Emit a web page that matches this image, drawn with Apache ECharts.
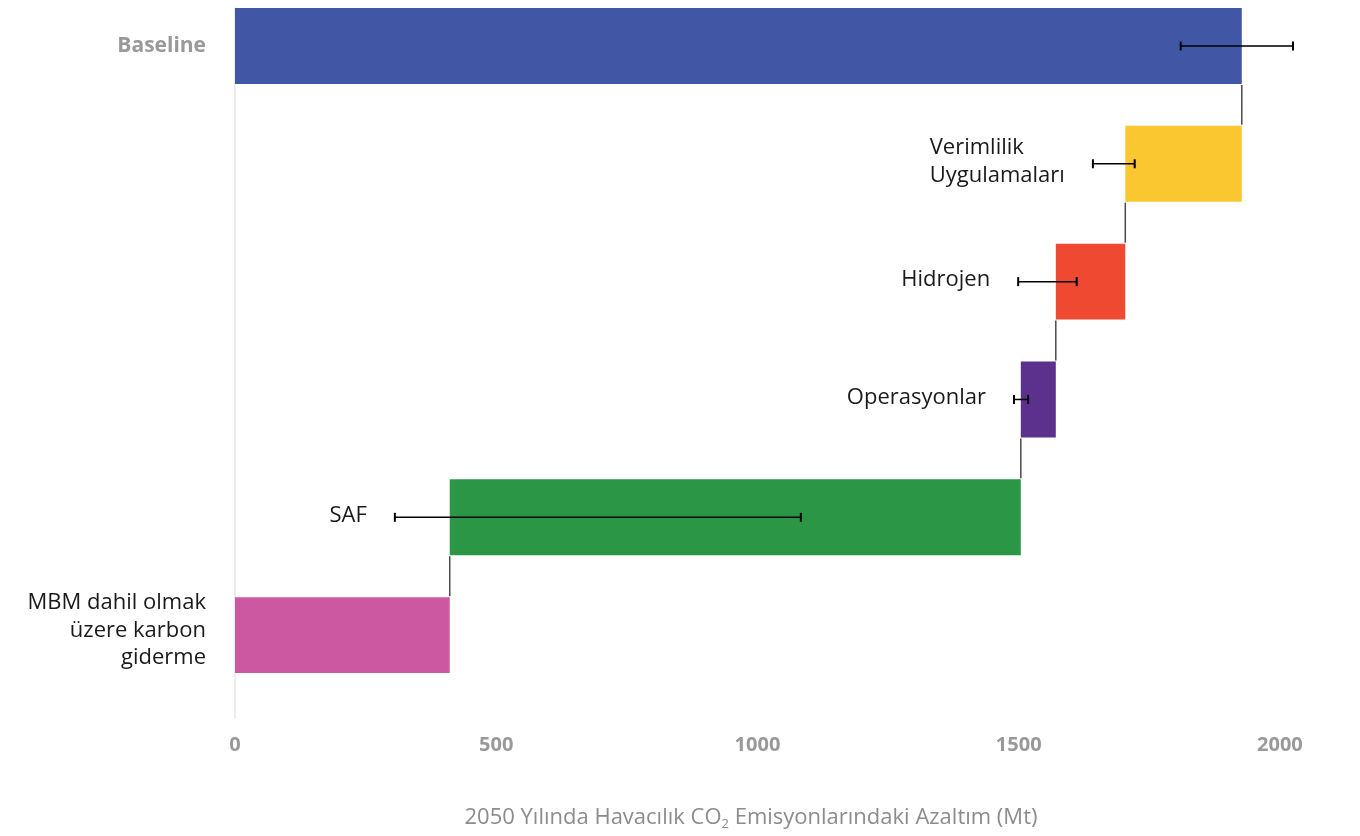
<!DOCTYPE html>
<html>
<head>
<meta charset="utf-8">
<script src="https://cdn.jsdelivr.net/npm/echarts@6/dist/echarts.min.js"></script>
<style>
html,body{margin:0;padding:0;background:#fff;}
#c{width:1360px;height:836px;}
</style>
</head>
<body>
<div id="c"></div>
<script>
// ---- data ----
const categories = ['Baseline', 'Verimlilik\nUygulamaları', 'Hidrojen', 'Operasyonlar', 'SAF', 'MBM dahil olmak\nüzere karbon\ngiderme'];
const baselineValue = 1927;
const reductions = [223, 133, 67, 1093, 411];      // categories 1..5
const errLow  = [1810, 1642, 1499, 1491, 306, null];
const errHigh = [2025, 1722, 1611, 1518, 1083, null];
const xTicks = [0, 500, 1000, 1500, 2000];
const axisTitle = '2050 Yılında Havacılık CO{sub|2} Emisyonlarındaki Azaltım (Mt)';

// ---- styles ----
const barColors = ['#4157a5', '#fbc730', '#ef4a31', '#5c308d', '#2a9646', '#cc58a1'];
const BAR_H = 0.644;
const FONT = '"Open Sans", sans-serif';

// waterfall segments [start, end, index]
const barData = [[0, baselineValue, 0]];
let cur = baselineValue;
reductions.forEach((r, i) => { barData.push([cur - r, cur, i + 1]); cur -= r; });

const connectorData = [];
for (let i = 0; i < barData.length - 1; i++) connectorData.push([barData[i + 1][1], i]);

const errData = [];
errLow.forEach((lo, i) => { if (lo != null) errData.push([lo, errHigh[i], i]); });

const innerLabelData = [];
for (let i = 1; i < categories.length - 1; i++) innerLabelData.push([errLow[i], i]);

const measureCtx = document.createElement('canvas').getContext('2d');
measureCtx.font = '22px "Open Sans"';
function blockWidth(t) {
  return Math.max.apply(null, t.split('\n').map(s => measureCtx.measureText(s).width));
}

const chart = echarts.init(document.getElementById('c'));
chart.setOption({
  animation: false,
  textStyle: { fontFamily: FONT },
  grid: { left: 235, right: 67, top: 8, bottom: 117 },
  xAxis: {
    type: 'value', min: 0, max: 2025,
    axisLine: { show: true, lineStyle: { color: '#e6e6e6', width: 1.5 } },
    axisTick: { show: false },
    splitLine: { show: false },
    axisLabel: {
      customValues: xTicks,
      formatter: function (v) { return String(v); },
      margin: 17,
      color: '#999999', fontWeight: 'bold', fontSize: 20, lineHeight: 20
    },
    name: axisTitle,
    nameLocation: 'middle',
    nameGap: 87,
    nameTextStyle: {
      color: '#8c8c8c', fontSize: 22, padding: [0, 26, 0, 0], lineHeight: 26,
      rich: {
        sub: { fontSize: 13, lineHeight: 10, verticalAlign: 'bottom', color: '#8c8c8c' }
      }
    }
  },
  yAxis: {
    type: 'value', inverse: true, min: -0.322, max: 5.703,
    offset: 3,
    axisLine: { show: true, lineStyle: { color: '#e6e6e6', width: 1.5 } },
    axisTick: { show: false },
    splitLine: { show: false },
    axisLabel: {
      customValues: [0, categories.length - 1],
      margin: 26,
      formatter: function (v) {
        if (v === 0) return '{b|' + categories[0] + '}';
        if (v === categories.length - 1) return '{m|' + categories[v].split('\n').join('}\n{m|') + '}';
        return '';
      },
      rich: {
        b: { fontSize: 21, fontWeight: 'bold', color: '#999999', fontFamily: FONT, padding: [10, 0, 0, 0] },
        m: { fontSize: 22, color: '#1a1a1a', lineHeight: 27.5, fontFamily: FONT, align: 'right' }
      },
      padding: [0, 0, 9, 0]
    }
  },
  series: [
    {
      type: 'custom', name: 'bars', data: barData,
      encode: { x: [0, 1], y: 2 },
      renderItem: function (params, api) {
        const s = api.value(0), e = api.value(1), idx = api.value(2);
        const p0 = api.coord([s, idx]), p1 = api.coord([e, idx]);
        const h = api.size([0, BAR_H])[1];
        return { type: 'rect', shape: { x: p0[0], y: p0[1] - h / 2, width: p1[0] - p0[0], height: h }, style: { fill: barColors[idx] } };
      }
    },
    {
      type: 'custom', name: 'connectors', data: connectorData,
      encode: { x: 0, y: 1 },
      renderItem: function (params, api) {
        const x = api.value(0), i = api.value(1);
        const h = api.size([0, BAR_H])[1];
        const a = api.coord([x, i]), b = api.coord([x, i + 1]);
        return { type: 'line', shape: { x1: a[0], y1: a[1] + h / 2 + 1, x2: b[0], y2: b[1] - h / 2 - 1 }, style: { stroke: '#4a4a4a', lineWidth: 1.5 } };
      }
    },
    {
      type: 'custom', name: 'errors', data: errData, z: 5,
      encode: { x: [0, 1], y: 2 },
      renderItem: function (params, api) {
        const lo = api.coord([api.value(0), api.value(2)]), hi = api.coord([api.value(1), api.value(2)]);
        const c = 4.5, st = { stroke: '#000', lineWidth: 1.5 };
        return { type: 'group', children: [
          { type: 'line', shape: { x1: lo[0], y1: lo[1], x2: hi[0], y2: hi[1] }, style: st },
          { type: 'line', shape: { x1: lo[0], y1: lo[1] - c, x2: lo[0], y2: lo[1] + c }, style: { stroke: '#000', lineWidth: 2 } },
          { type: 'line', shape: { x1: hi[0], y1: hi[1] - c, x2: hi[0], y2: hi[1] + c }, style: { stroke: '#000', lineWidth: 2 } }
        ] };
      }
    },
    {
      type: 'custom', name: 'labels', data: innerLabelData, z: 6,
      encode: { x: 0, y: 1 },
      renderItem: function (params, api) {
        const i = api.value(1);
        const p = api.coord([api.value(0), i]);
        const t = categories[i];
        const w = blockWidth(t);
        return { type: 'text', x: p[0] - 28 - w, y: p[1] - 2,
          style: { text: t, fill: '#1a1a1a', font: '22px "Open Sans"', align: 'left', verticalAlign: 'middle', lineHeight: 28 } };
      }
    }
  ]
});
</script>
</body>
</html>
